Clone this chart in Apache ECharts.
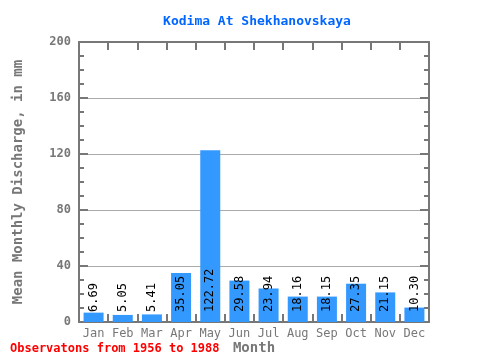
<!DOCTYPE html>
<html><head><meta charset="utf-8">
<script src="https://cdn.jsdelivr.net/npm/echarts@6/dist/echarts.min.js"></script>
<style>html,body{margin:0;padding:0;background:#fff}#c{width:480px;height:360px}</style>
</head><body><div id="c"></div>
<script>
var months = ['Jan','Feb','Mar','Apr','May','Jun','Jul','Aug','Sep','Oct','Nov','Dec'];
var discharge = [6.69, 5.05, 5.41, 35.05, 122.72, 29.58, 23.94, 18.16, 18.15, 27.35, 21.15, 10.30];
var yTicks = [0, 40, 80, 120, 160, 200];
var titleText = 'Kodima At Shekhanovskaya';
var yName = 'Mean Monthly Discharge, in mm';
var xName = 'Month';
var footer = 'Observatons from 1956 to 1988';

var FONT = 'DejaVu Sans Mono';
var AX = '#777777';
var chart = echarts.init(document.getElementById('c'), null, {renderer: 'canvas'});
function catAxis(pos, extra) {
  return Object.assign({
    type: 'category', data: months, position: pos, boundaryGap: true,
    axisLine: {show: true, onZero: false, lineStyle: {color: AX, width: 2}},
    axisTick: {show: true, inside: true, length: 8, interval: 0, lineStyle: {color: AX, width: 2}},
    splitLine: {show: false}
  }, extra);
}
function valAxis(pos, extra) {
  return Object.assign({
    type: 'value', position: pos,
    min: yTicks[0], max: yTicks[yTicks.length - 1], interval: yTicks[1] - yTicks[0],
    axisLine: {show: true, onZero: false, lineStyle: {color: AX, width: 2}},
    axisTick: {show: true, inside: true, length: 9, lineStyle: {color: AX, width: 2}},
    minorTick: {show: true, splitNumber: 4, length: 5, lineStyle: {color: AX, width: 2}}
  }, extra);
}
chart.setOption({
  animation: false,
  title: [
    {text: titleText, left: 252, top: 10, textAlign: 'center',
     textStyle: {color: '#0066ff', fontFamily: FONT, fontSize: 13, fontWeight: 'bold'}},
    {text: footer, left: 5, top: 338,
     textStyle: {color: '#ff0000', fontFamily: FONT, fontSize: 12, fontWeight: 'bold'}}
  ],
  grid: {left: 79, right: 51, top: 42, bottom: 38, containLabel: false, outerBoundsMode: 'none'},
  xAxis: [
    catAxis('bottom', {
      name: xName, nameLocation: 'middle', nameGap: 19, nameMoveOverlap: false,
      nameTextStyle: {color: AX, fontFamily: FONT, fontSize: 14, fontWeight: 'bold'},
      axisLabel: {color: AX, fontFamily: FONT, fontSize: 12, margin: 6}
    }),
    catAxis('top', {axisLabel: {show: false}})
  ],
  yAxis: [
    valAxis('left', {
      name: yName, nameLocation: 'middle', nameGap: 54, nameMoveOverlap: false,
      nameTextStyle: {color: AX, fontFamily: FONT, fontSize: 14, fontWeight: 'bold'},
      axisLabel: {color: AX, fontFamily: FONT, fontSize: 12, fontWeight: 'bold', margin: 8},
      splitLine: {show: true, lineStyle: {color: '#aaaaaa', width: 1}}
    }),
    valAxis('right', {axisLabel: {show: false}, splitLine: {show: false}})
  ],
  series: [{
    type: 'bar', data: discharge, barWidth: 20, xAxisIndex: 0, yAxisIndex: 0,
    itemStyle: {color: '#3399ff'},
    label: {
      show: true, position: 'insideBottom', distance: 10, rotate: 90,
      align: 'left', verticalAlign: 'middle',
      color: '#000', fontFamily: FONT, fontSize: 12,
      formatter: function (p) { return p.value.toFixed(2); }
    }
  }]
});
</script></body></html>
